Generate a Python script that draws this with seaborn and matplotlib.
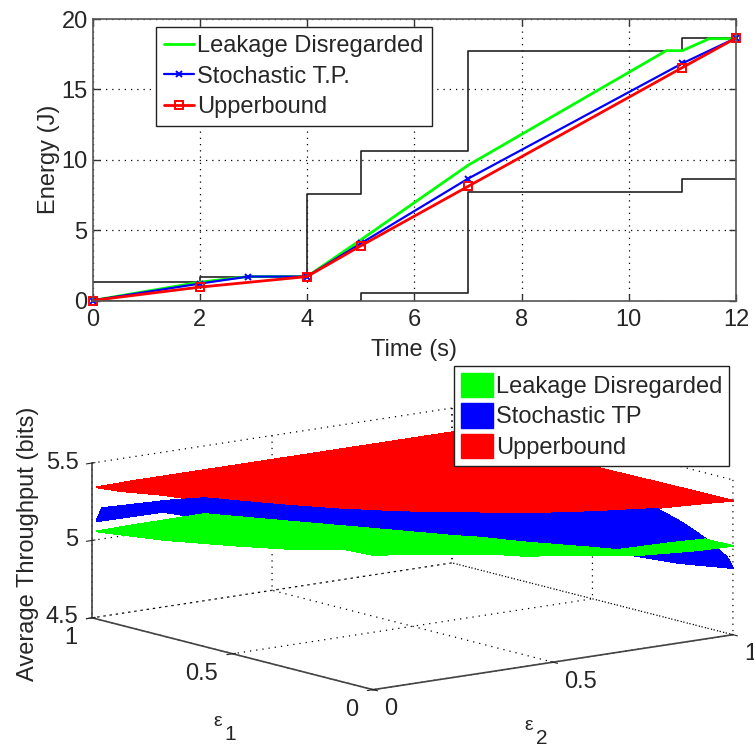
import matplotlib
matplotlib.use("Agg")
import matplotlib.pyplot as plt
import numpy as np
import seaborn as sns
from matplotlib.patches import Patch

# top panel: energy vs time
time_green = [0, 2, 2.9, 4, 5, 7, 10.7, 11, 11.5, 12]
energy_green = [0, 1.3, 1.7, 1.7, 4.3, 9.6, 17.75, 17.75, 18.6, 18.6]
time_blue = [0, 2, 2.9, 4, 5, 7, 11, 12]
energy_blue = [0, 1.2, 1.7, 1.7, 4.05, 8.65, 16.85, 18.65]
time_red = [0, 2, 4, 5, 7, 11, 12]
energy_red = [0, 0.95, 1.7, 3.88, 8.1, 16.55, 18.65]
time_upper = [0, 2, 4, 5, 7, 11, 12]
energy_upper = [1.32, 1.7, 7.55, 10.62, 17.75, 18.65, 18.65]
time_lower = [0, 5, 7, 11, 12]
energy_lower = [0, 0.56, 7.72, 8.65, 8.65]

# bottom panel: throughput surfaces, rows are eps1, columns are eps2
eps1_grid = [0, 0.1, 0.3, 0.5, 0.75, 0.9, 0.985]
eps2_grid = [0, 0.1, 0.3, 0.5, 0.75, 0.9, 1]
throughput_red = [
    [5.53, 5.50, 5.45, 5.42, 5.397, 5.38, 5.365],
    [5.49, 5.47, 5.43, 5.40, 5.38, 5.37, 5.365],
    [5.49, 5.47, 5.43, 5.40, 5.375, 5.365, 5.36],
    [5.46, 5.44, 5.41, 5.38, 5.37, 5.36, 5.355],
    [5.41, 5.40, 5.38, 5.37, 5.36, 5.355, 5.355],
    [5.365, 5.365, 5.36, 5.355, 5.355, 5.355, 5.355],
    [5.35, 5.355, 5.355, 5.355, 5.355, 5.355, 5.355],
]
throughput_green = [
    [5.37, 5.34, 5.27, 5.19, 5.105, 5.08, 5.074],
    [5.36, 5.32, 5.24, 5.14, 5.08, 5.08, 5.07],
    [5.27, 5.24, 5.17, 5.08, 5.00, 4.94, 4.89],
    [5.20, 5.17, 5.12, 5.02, 4.94, 4.87, 4.83],
    [5.12, 5.10, 5.09, 4.98, 4.86, 4.79, 4.75],
    [5.085, 5.08, 5.075, 4.97, 4.83, 4.75, 4.71],
    [5.065, 5.07, 5.071, 4.959, 4.82, 4.736, 4.68],
]
eps1_blue = [0, 0.02, 0.09, 0.18, 0.27, 0.5, 0.75, 0.985]
eps2_blue = [0, 0.015, 0.2, 0.3, 0.5, 0.67, 0.85, 1]
throughput_blue = [
    [5.41, 5.41, 5.365, 5.31, 5.226, 5.15, 5.016, 4.93],
    [5.405, 5.405, 5.36, 5.31, 5.23, 5.155, 5.03, 4.99],
    [5.39, 5.39, 5.35, 5.30, 5.23, 5.16, 5.07, 5.07],
    [5.385, 5.38, 5.34, 5.29, 5.22, 5.16, 5.10, 5.14],
    [5.375, 5.37, 5.33, 5.28, 5.21, 5.15, 5.10, 5.188],
    [5.35, 5.34, 5.28, 5.23, 5.15, 5.09, 5.05, 5.06],
    [5.30, 5.30, 5.25, 5.20, 5.10, 5.02, 4.97, 4.93],
    [5.13, 5.21, 5.194, 5.174, 5.06, 4.97, 4.887, 4.83],
]

sns.set_style("ticks")
plt.rcParams['font.family'] = ['Liberation Sans', 'DejaVu Sans']
plt.rcParams['grid.linestyle'] = (0, (1, 4))
plt.rcParams['grid.color'] = 'black'
plt.rcParams['grid.linewidth'] = 0.9

W, H = 754, 748
fig = plt.figure(figsize=(W / 100, H / 100), dpi=100)

ax = fig.add_axes([92.5 / W, (H - 300.5) / H, 643.5 / W, 281.5 / H])
sns.lineplot(x=time_upper, y=energy_upper, drawstyle="steps-post", color="#222222", lw=1.2, ax=ax)
sns.lineplot(x=time_lower, y=energy_lower, drawstyle="steps-post", color="#222222", lw=1.2, ax=ax)
sns.lineplot(x=time_green, y=energy_green, color="#00FF00", lw=2, label="Leakage Disregarded", ax=ax)
sns.lineplot(x=time_blue, y=energy_blue, color="#0000FF", lw=1.6, marker="x", ms=5, mew=1.4, mec="#0000FF",
             clip_on=False, label="Stochastic T.P.", ax=ax)
sns.lineplot(x=time_red, y=energy_red, color="#FF0000", lw=2, marker="s", ms=5.5, mfc="none", mec="#FF0000",
             mew=1.4, clip_on=False, label="Upperbound", ax=ax)
ax.set_xlim(0, 12)
ax.set_ylim(0, 20)
ax.set_xticks([0, 2, 4, 6, 8, 10, 12])
ax.set_yticks([0, 5, 10, 15, 20])
ax.grid(True)
ax.tick_params(direction="in", top=True, right=True, length=5, width=1, labelsize=17, color="#333333")
ax.tick_params(axis="x", pad=6)
for s in ax.spines.values():
    s.set_color("#555555")
    s.set_linewidth(1.2)
ax.set_xlabel("Time (s)", fontsize=17, labelpad=6)
ax.set_ylabel("Energy (J)", fontsize=17, labelpad=1)
ax.legend(loc="upper left", bbox_to_anchor=(156 / W, (H - 27) / H), bbox_transform=fig.transFigure,
          fontsize=17, fancybox=False, framealpha=1, edgecolor="#222222", borderaxespad=0, borderpad=0.35,
          handlelength=1.25, handletextpad=0.15, labelspacing=0.35)

# bottom panel: 3d view, ortho, layers in fixed order like the original
side = 380
ax3 = fig.add_axes([217.4 / W, 4 / H, side / W, side / H], projection="3d", computed_zorder=False,
                   proj_type="ortho")
ax3.patch.set_alpha(0)
ax3.view_init(elev=11.4, azim=232.3)
ax3.set_box_aspect((455, 459.6, 158), zoom=1.7)

surfaces = [
    (eps2_grid, eps1_grid, throughput_red, "#FF0000", 1),
    (eps2_blue, eps1_blue, throughput_blue, "#0000FF", 2),
    (eps2_grid, eps1_grid, throughput_green, "#00FF00", 3),
]
for xs, ys, zs, col, order in surfaces:
    X, Y = np.meshgrid(xs, ys)
    surf = ax3.plot_surface(X, Y, np.array(zs), color=col, shade=False, linewidth=0, antialiased=False,
                            rstride=1, cstride=1, zorder=order)
    surf.set_edgecolor(col)
    surf.set_linewidth(0.5)
    surf.set_clip_on(False)

ax3.set_xlim(0, 1)
ax3.set_ylim(0, 1)
ax3.set_zlim(4.5, 5.5)
ax3.set_xticks([0, 0.5, 1])
ax3.set_yticks([0, 0.5, 1])
ax3.set_zticks([4.5, 5, 5.5])
ax3.set_xticklabels(["0", "0.5", "1"], ha="left")
ax3.set_yticklabels(["0", "0.5", "1"], ha="right")
ax3.set_zticklabels(["4.5", "5", "5.5"], ha="right", va="center")
ax3.tick_params(labelsize=17)
ax3.tick_params(axis="x", pad=-2.5)
ax3.tick_params(axis="y", pad=-2)
ax3.tick_params(axis="z", pad=-5)
for a in (ax3.xaxis, ax3.yaxis, ax3.zaxis):
    a.set_pane_color((1, 1, 1, 0))
    a.pane.set_edgecolor("none")
    a.line.set_color("#444444")
    a.line.set_linewidth(1.2)

fig.text(28 / W, (H - 544) / H, "Average Throughput (bits)", rotation=90, fontsize=17, ha="center", va="center")
fig.text(217.5 / W, (H - 722) / H, "ε", fontsize=14, ha="center", va="center")
fig.text(230 / W, (H - 734) / H, "1", fontsize=15, ha="center", va="center")
fig.text(529 / W, (H - 726) / H, "ε", fontsize=14, ha="center", va="center")
fig.text(542 / W, (H - 739) / H, "2", fontsize=15, ha="center", va="center")

handles = [Patch(facecolor="#00FF00", edgecolor="#00FF00"), Patch(facecolor="#0000FF", edgecolor="#0000FF"),
           Patch(facecolor="#FF0000", edgecolor="#FF0000")]
leg = ax3.legend(handles, ["Leakage Disregarded", "Stochastic TP", "Upperbound"], loc="upper left",
                 bbox_to_anchor=(454 / W, (H - 366) / H), bbox_transform=fig.transFigure, fontsize=17,
                 fancybox=False, framealpha=1, edgecolor="#222222", borderaxespad=0, borderpad=0.3,
                 handlelength=1.35, handleheight=1.2, handletextpad=0.12, labelspacing=0.22)
leg.set_zorder(10)

fig.savefig("out.png", dpi=100)
